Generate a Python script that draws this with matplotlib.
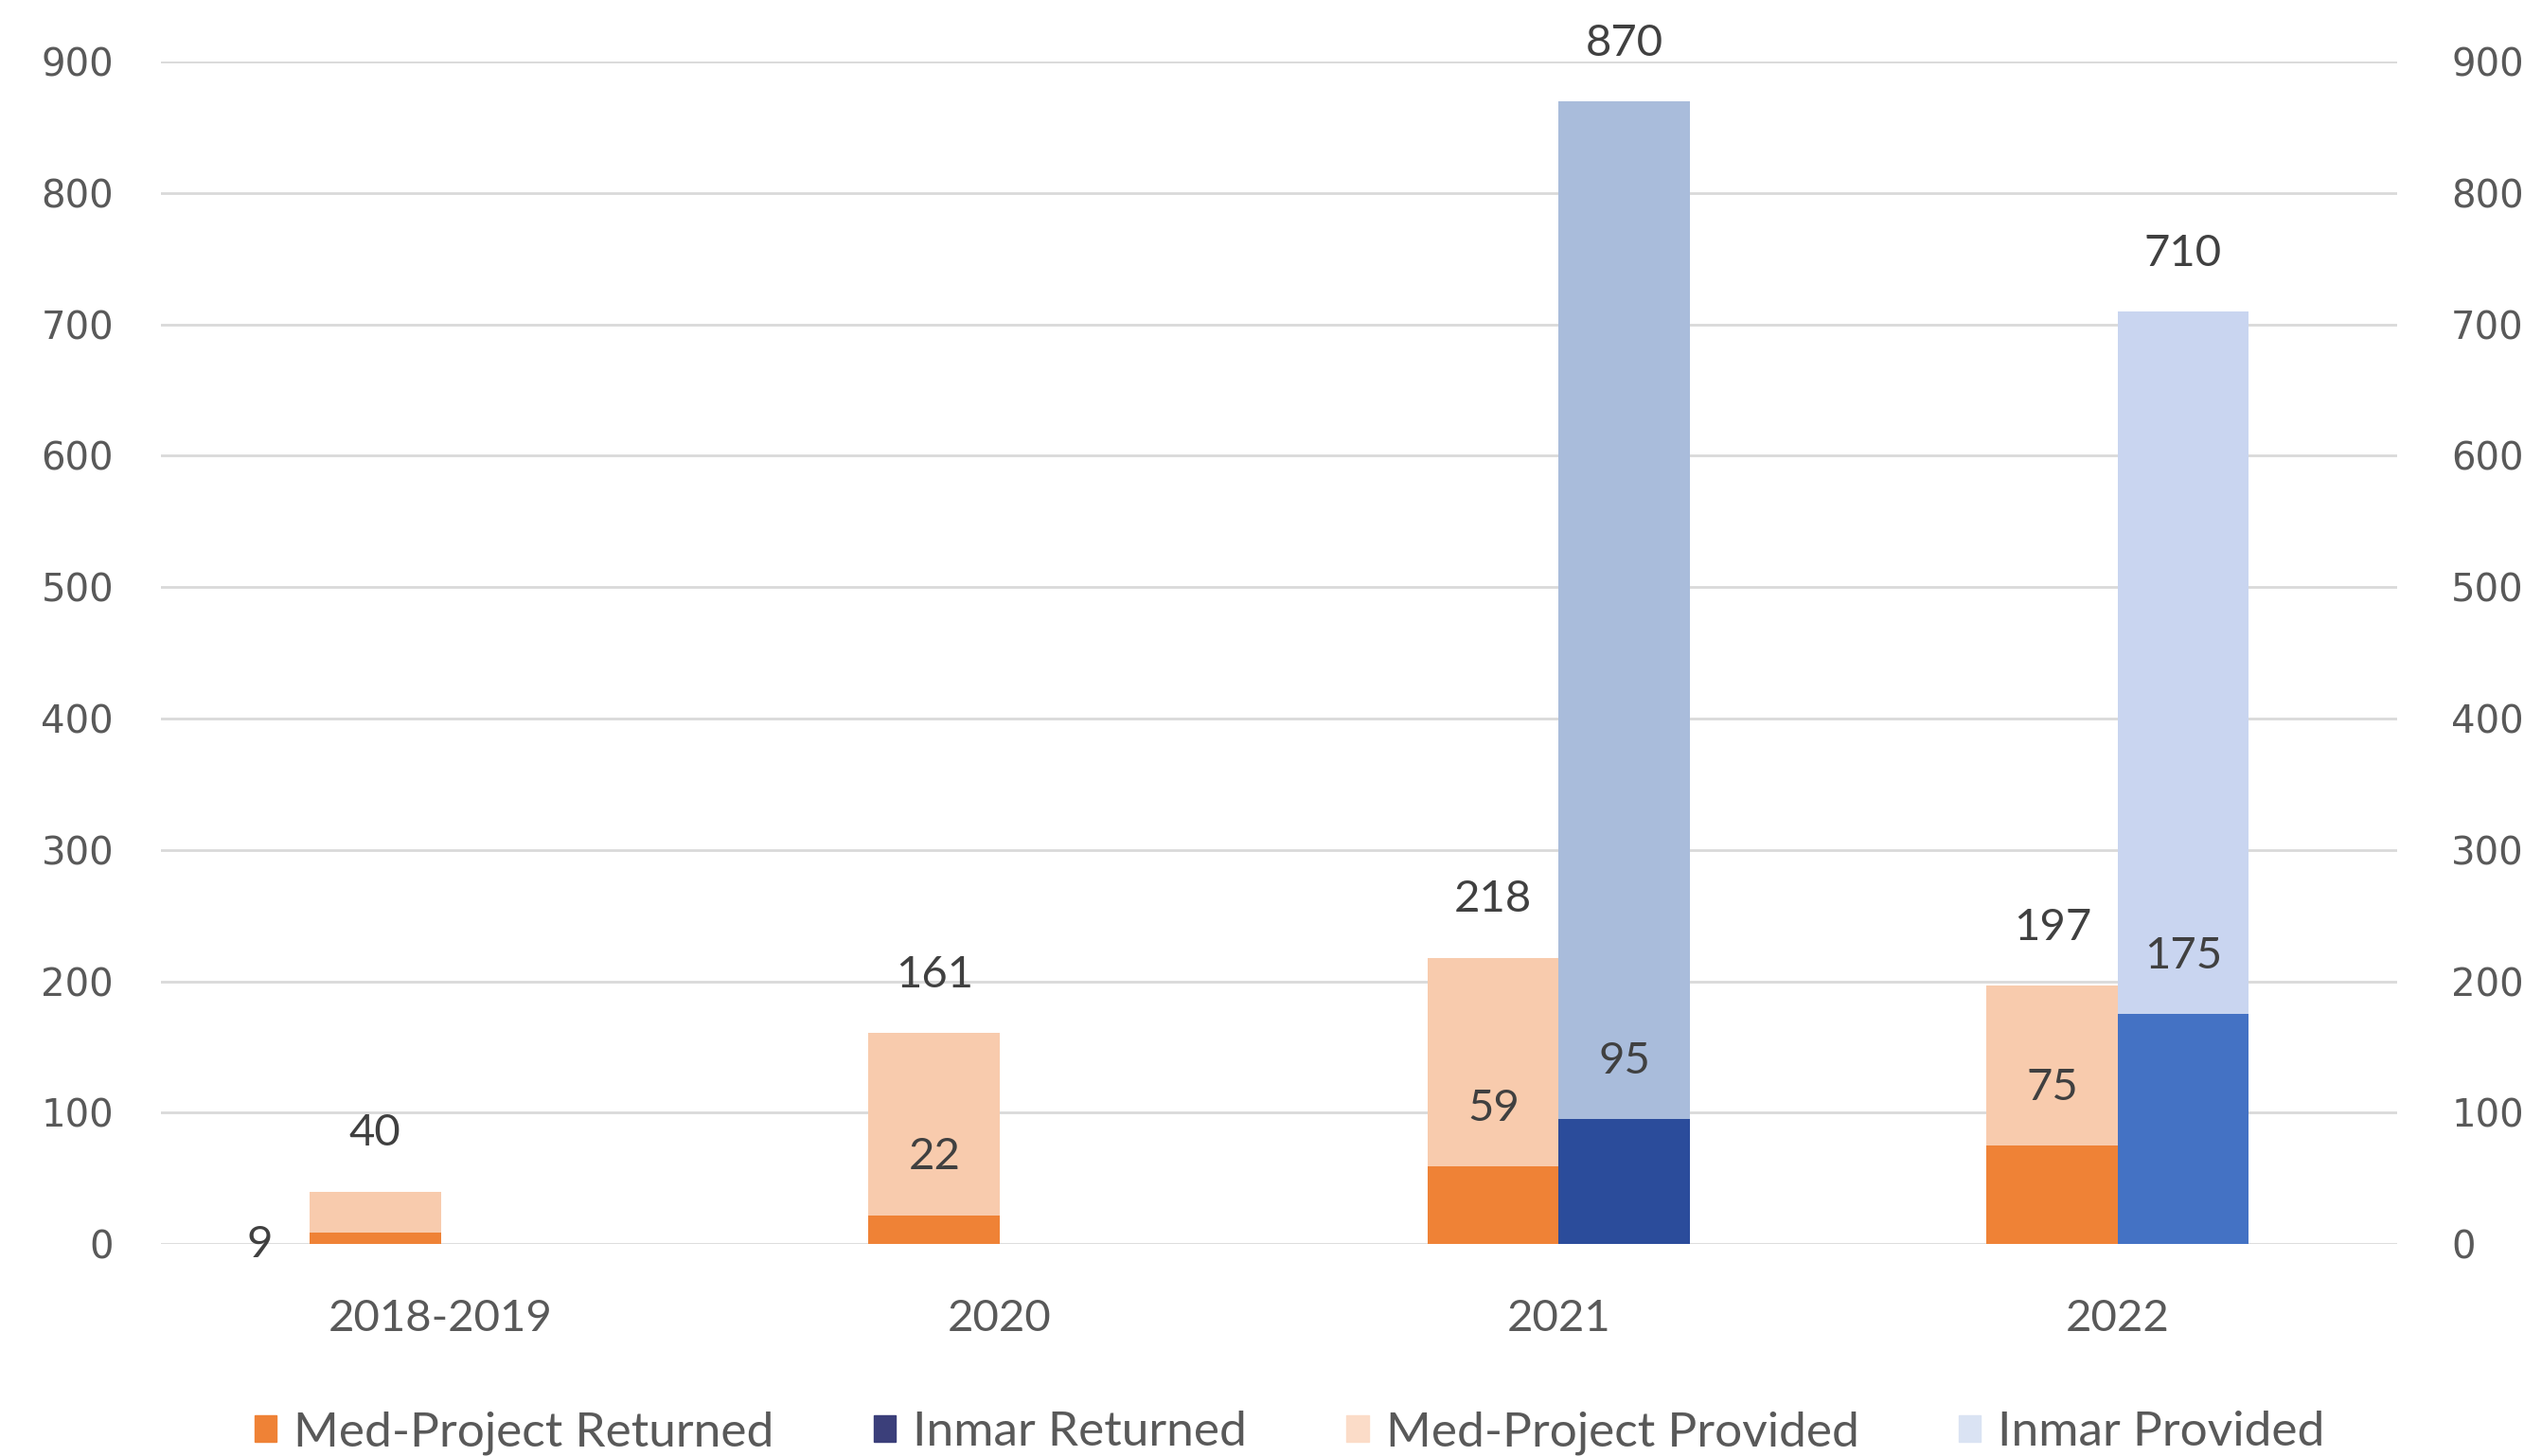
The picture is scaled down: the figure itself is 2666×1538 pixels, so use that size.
import numpy as np
import matplotlib
matplotlib.use('Agg')
import matplotlib.pyplot as plt
import matplotlib.patches as mpatches

categories = ['2018-2019', '2020', '2021', '2022']
med_provided = [40, 161, 218, 197]
med_returned = [9, 22, 59, 75]
inmar_provided = [0, 0, 870, 710]
inmar_returned = [0, 0, 95, 175]
y_ticks = [0, 100, 200, 300, 400, 500, 600, 700, 800, 900]

# colours (the inmar bars vary a bit between years in the source image)
c_med_ret = '#EF8236'
c_med_prov = '#F8CBAD'
c_inm_ret = ['#2E4F9E', '#2E4F9E', '#2B4C9B', '#4472C4']
c_inm_prov = ['#A9BCDB', '#A9BCDB', '#A9BCDB', '#C9D5F0']
text_col = '#404040'
tick_col = '#595959'

plt.rcParams['font.family'] = ['Lato', 'DejaVu Sans']

fig = plt.figure(figsize=(26.66, 15.38), dpi=100)
ax = fig.add_axes([0.0638, 0.1456, 0.886, 0.812])

x = np.arange(len(categories))
w = 0.235
off = 0.117
has_inmar = [v > 0 for v in inmar_provided]

ax.bar(x - off, med_provided, w, color=c_med_prov, zorder=2)
ax.bar(x - off, med_returned, w, color=c_med_ret, zorder=3)
xi = x[has_inmar]
ax.bar(xi + off, np.array(inmar_provided)[has_inmar], w,
       color=np.array(c_inm_prov)[has_inmar], zorder=2)
ax.bar(xi + off, np.array(inmar_returned)[has_inmar], w,
       color=np.array(c_inm_ret)[has_inmar], zorder=3)

lab_kw = dict(textcoords='offset points', ha='center', va='center',
              fontsize=34, color=text_col, zorder=5, annotation_clip=False)
for i in range(len(categories)):
    ax.annotate(str(med_provided[i]), (x[i] - off, med_provided[i]), xytext=(0, 44), **lab_kw)
    if i == 0:
        # tiny bar: label sits to the left
        ax.annotate(str(med_returned[i]), (x[i] - off, med_returned[i]), xytext=(-88, -10), **lab_kw)
    else:
        ax.annotate(str(med_returned[i]), (x[i] - off, med_returned[i]), xytext=(0, 44), **lab_kw)
    if has_inmar[i]:
        ax.annotate(str(inmar_provided[i]), (x[i] + off, inmar_provided[i]), xytext=(0, 44), **lab_kw)
        ax.annotate(str(inmar_returned[i]), (x[i] + off, inmar_returned[i]), xytext=(0, 44), **lab_kw)

ax.set_xlim(-0.5, len(categories) - 0.5)
ax.set_ylim(0, 900)
ax.set_yticks(y_ticks)
ax.set_xticks(x)
ax.set_xticklabels(categories)
ax.yaxis.grid(True, color='#D9D9D9', linewidth=2, zorder=0)
ax.set_axisbelow(True)
for s in ax.spines.values():
    s.set_visible(False)
ax.tick_params(axis='both', length=0, labelcolor=tick_col)
ax.tick_params(axis='y', pad=36, labelsize=29)
ax.tick_params(axis='x', pad=42, labelsize=34)
for t in ax.get_yticklabels():
    t.set_fontfamily('DejaVu Sans')

ax2 = ax.twinx()
ax2.set_ylim(ax.get_ylim())
ax2.set_yticks(y_ticks)
for s in ax2.spines.values():
    s.set_visible(False)
ax2.tick_params(axis='y', length=0, labelsize=29, labelcolor=tick_col, pad=41)
for t in ax2.get_yticklabels():
    t.set_fontfamily('DejaVu Sans')

order = ['Med-Project Returned', 'Inmar Returned', 'Med-Project Provided', 'Inmar Provided']
leg_cols = [c_med_ret, '#3B3F7A', '#FBDCC8', '#DAE3F3']
leg_handles = [mpatches.Patch(color=c) for c in leg_cols]
fig.legend(leg_handles, order, loc='center', bbox_to_anchor=(0.511, 0.016), ncol=4,
           frameon=False, fontsize=37, labelcolor=tick_col, handlelength=0.45,
           handleheight=0.45, handletextpad=0.35, columnspacing=2.05)

fig.savefig('out.png', dpi=100, facecolor='white')
